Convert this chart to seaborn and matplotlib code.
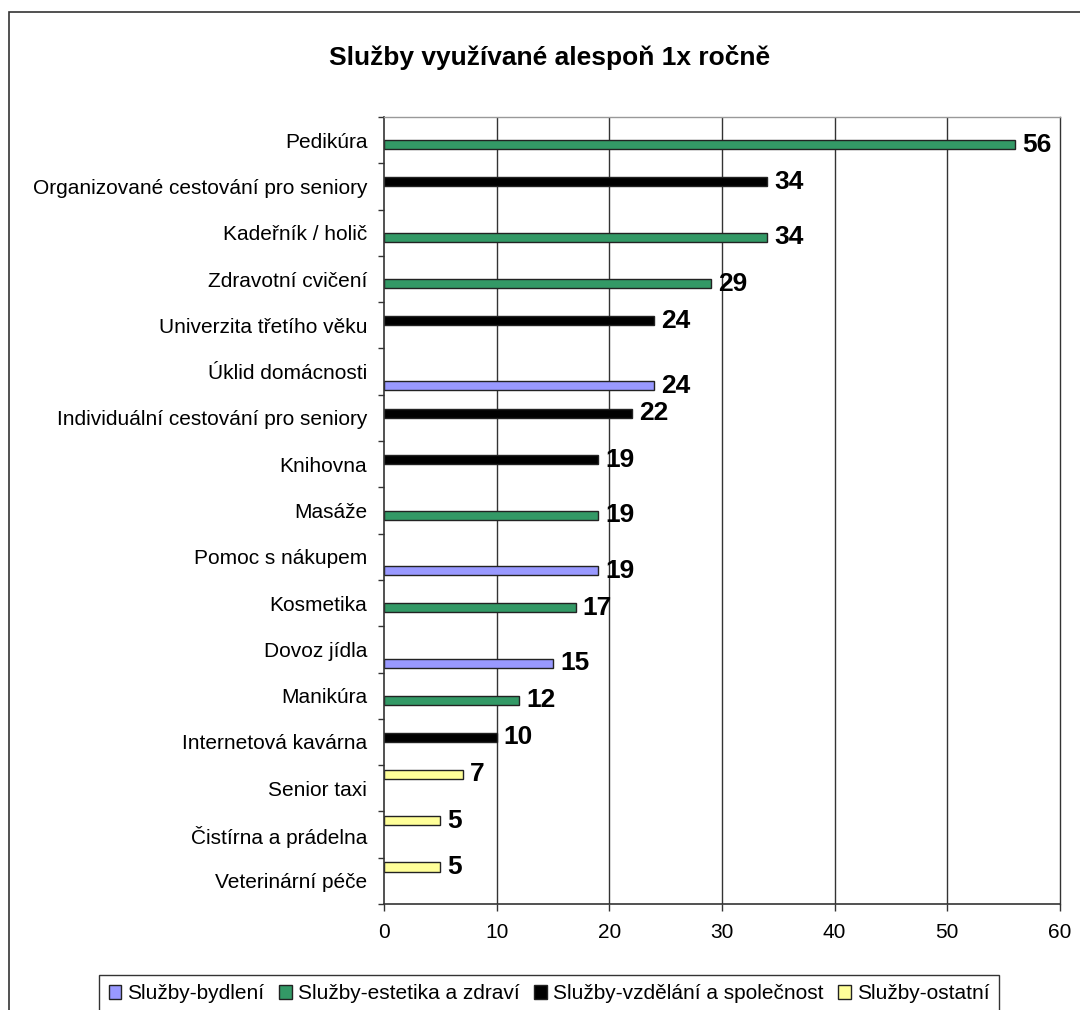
import matplotlib
matplotlib.use("Agg")
import matplotlib.pyplot as plt
import seaborn as sns
import pandas as pd
from matplotlib.patches import Rectangle, Patch

categories = [
    "Pedikúra",
    "Organizované cestování pro seniory",
    "Kadeřník / holič",
    "Zdravotní cvičení",
    "Univerzita třetího věku",
    "Úklid domácnosti",
    "Individuální cestování pro seniory",
    "Knihovna",
    "Masáže",
    "Pomoc s nákupem",
    "Kosmetika",
    "Dovoz jídla",
    "Manikúra",
    "Internetová kavárna",
    "Senior taxi",
    "Čistírna a prádelna",
    "Veterinární péče",
]
values = [56, 34, 34, 29, 24, 24, 22, 19, 19, 19, 17, 15, 12, 10, 7, 5, 5]
groups = [
    "Služby-estetika a zdraví",
    "Služby-vzdělání a společnost",
    "Služby-estetika a zdraví",
    "Služby-estetika a zdraví",
    "Služby-vzdělání a společnost",
    "Služby-bydlení",
    "Služby-vzdělání a společnost",
    "Služby-vzdělání a společnost",
    "Služby-estetika a zdraví",
    "Služby-bydlení",
    "Služby-estetika a zdraví",
    "Služby-bydlení",
    "Služby-estetika a zdraví",
    "Služby-vzdělání a společnost",
    "Služby-ostatní",
    "Služby-ostatní",
    "Služby-ostatní",
]
series_names = ["Služby-bydlení", "Služby-estetika a zdraví",
                "Služby-vzdělání a společnost", "Služby-ostatní"]
series_colors = ["#9999FF", "#339966", "#000000", "#FFFF99"]
x_ticks = [0, 10, 20, 30, 40, 50, 60]
title = "Služby využívané alespoň 1x ročně"

sns.set_theme(style="white")
plt.rcParams["font.family"] = ["Liberation Sans", "DejaVu Sans"]
plt.rcParams["text.color"] = "black"
plt.rcParams["xtick.color"] = "black"
plt.rcParams["ytick.color"] = "black"

df = pd.DataFrame({"Služba": categories, "Počet": values, "Skupina": groups})
color_map = dict(zip(series_names, series_colors))
# dodge order top-to-bottom within each category band (as in the original)
hue_order = ["Služby-ostatní", "Služby-vzdělání a společnost",
             "Služby-estetika a zdraví", "Služby-bydlení"]

fig = plt.figure(figsize=(10.8, 10.1), dpi=100)
ax = fig.add_axes([384 / 1080, 1 - 904 / 1010, (1060 - 384) / 1080, (904 - 117) / 1010])

sns.barplot(data=df, y="Služba", x="Počet", hue="Skupina", order=categories,
            hue_order=hue_order, palette=color_map, orient="h", dodge=True,
            width=0.8, errorbar=None, edgecolor="#222222", linewidth=1.0,
            saturation=1, legend=False, ax=ax)

for cont in ax.containers:
    ax.bar_label(cont, fmt="%g", padding=5, fontsize=19, fontweight="bold",
                 color="black")

ax.set_xlim(0, 60)
ax.set_ylim(len(categories) - 0.5, -0.5)
ax.set_xticks(x_ticks)
ax.set_xticklabels([str(t) for t in x_ticks], fontsize=15, color="black")
ax.set_yticks(range(len(categories)))
ax.set_yticklabels(categories, fontsize=15, color="black")
ax.set_yticks([i - 0.5 for i in range(len(categories) + 1)], minor=True)
ax.tick_params(axis="y", which="major", length=0, pad=12)
ax.tick_params(axis="y", which="minor", length=4, width=1, direction="out",
               color="#333333", left=True)
ax.tick_params(axis="x", which="major", length=5, width=1, direction="out",
               color="#333333", bottom=True, pad=9)
ax.set_xlabel("")
ax.set_ylabel("")

ax.grid(False)
for t in x_ticks[1:-1]:
    ax.axvline(t, color="#333333", lw=1.0, zorder=0)

for side in ["left", "bottom"]:
    ax.spines[side].set_visible(True)
    ax.spines[side].set_color("#333333")
    ax.spines[side].set_linewidth(1.2)
ax.spines["top"].set_visible(True)
ax.spines["top"].set_color("#999999")
ax.spines["top"].set_linewidth(1.0)
ax.spines["right"].set_visible(True)
ax.spines["right"].set_color("#333333")
ax.spines["right"].set_linewidth(1.0)

fig.text(550 / 1080, 1 - 57 / 1010, title, ha="center", va="center",
         fontsize=19, fontweight="bold", color="black")

handles = [Patch(facecolor=c, edgecolor="#222222", linewidth=1.0)
           for c in series_colors]
leg = fig.legend(handles, series_names, loc="upper center",
                 bbox_to_anchor=(549 / 1080, 1 - 975 / 1010), ncol=4,
                 fontsize=15, frameon=True, fancybox=False,
                 handlelength=0.6, handleheight=0.6, handletextpad=0.3,
                 columnspacing=0.7, borderpad=0.45, borderaxespad=0)
leg.get_frame().set_edgecolor("black")
leg.get_frame().set_linewidth(1.0)
for txt in leg.get_texts():
    txt.set_color("black")

fig.patches.append(Rectangle((9 / 1080, -0.05), 1.2, 1.05 - 12 / 1010,
                             transform=fig.transFigure, fill=False,
                             edgecolor="#333333", linewidth=1.2))

fig.savefig("out.png", dpi=100, facecolor="white")
